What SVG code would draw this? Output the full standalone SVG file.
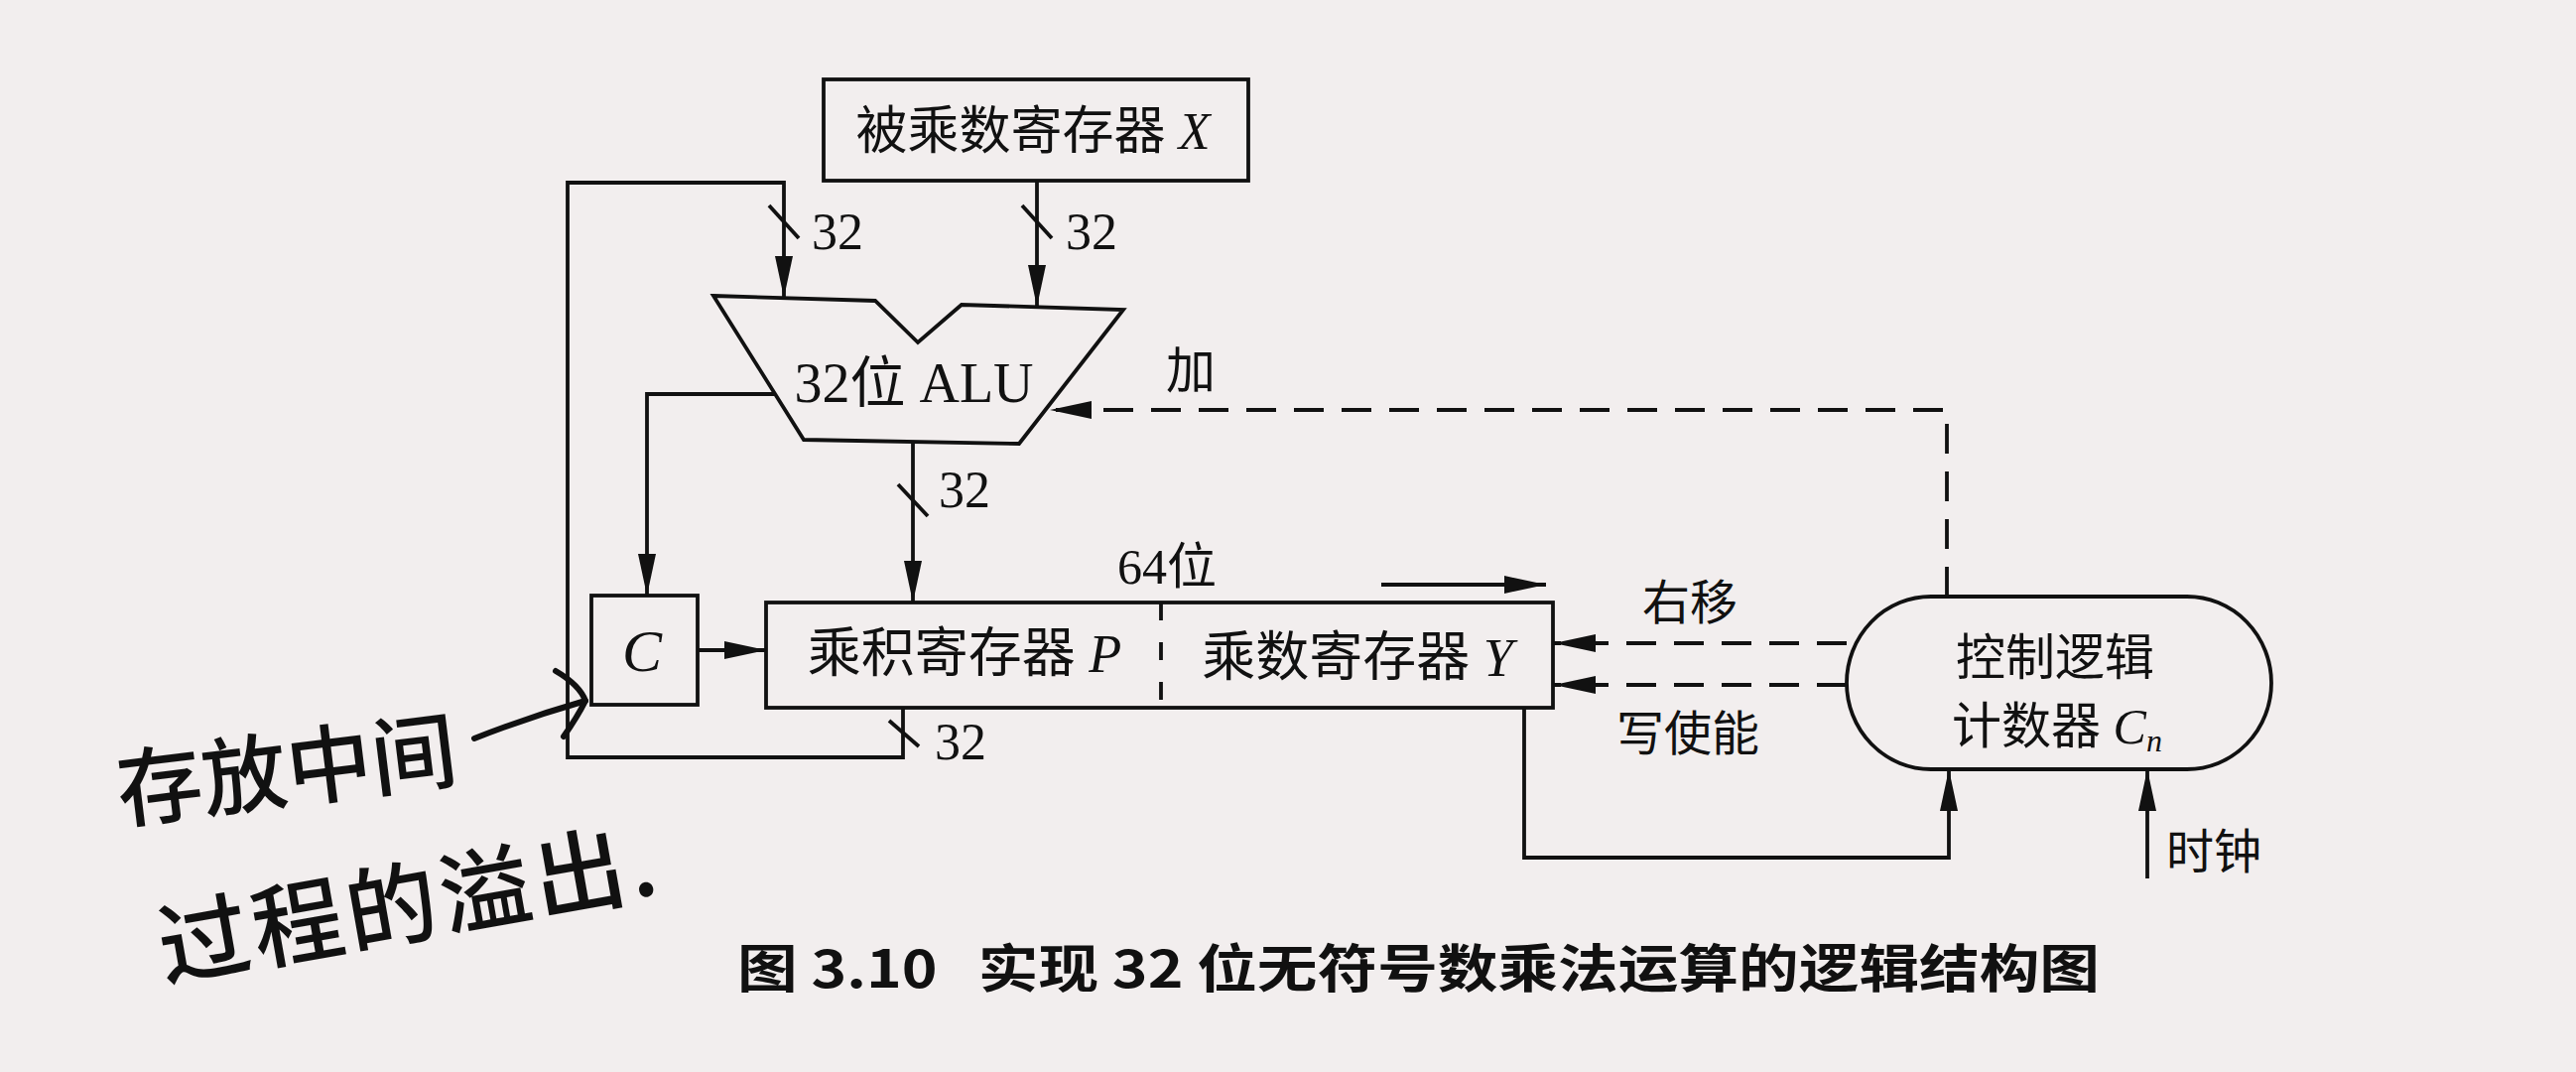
<svg xmlns="http://www.w3.org/2000/svg" width="2596" height="1080" viewBox="0 0 2596 1080">
  <defs>
    <marker id="ah" markerUnits="userSpaceOnUse" markerWidth="44" markerHeight="20" refX="42" refY="9" orient="auto">
      <path d="M0,0 L42,9 L0,18 z" fill="#111"/>
    </marker>
    <style>
      .ln { fill: none; stroke: #111; stroke-width: 3.8; }
      .dash { fill: none; stroke: #111; stroke-width: 3.8; stroke-dasharray: 30 18; }
      .box { fill: none; stroke: #111; stroke-width: 3.8; }
      .t { font-family: "Liberation Serif", "Noto Sans CJK SC", serif; fill: #111; text-anchor: middle; }
      .lab { font-size: 50px; }
      .num { font-size: 52px; }
      .it { font-style: italic; }
      .cap { font-family: "Noto Sans CJK SC", sans-serif; font-weight: bold; font-size: 52px; fill: #111; white-space: pre; }
      .hand { font-family: "Noto Sans CJK SC", sans-serif; font-weight: 500; fill: #111; }
    </style>
  </defs>
  <rect x="0" y="0" width="2596" height="1080" fill="#f2eeee"/>

  <g id="node-X">
    <rect class="box" x="830" y="80" width="428" height="102"/>
    <text class="t" x="1041" y="150" font-size="52">被乘数寄存器 <tspan class="it">X</tspan></text>
  </g>

  <g id="node-ALU">
    <polygon class="box" points="719,298 882,303 925,345 969,307 1132,312 1027,447 810,443"/>
    <text class="t" x="921" y="405" font-size="56">32位 ALU</text>
  </g>

  <g id="node-C">
    <rect class="box" x="596" y="600" width="107" height="110"/>
    <text class="t it" x="647" y="676" font-size="60">C</text>
  </g>

  <g id="node-PY">
    <rect class="box" x="772" y="607" width="793" height="106"/>
    <line x1="1170" y1="607" x2="1170" y2="713" stroke="#111" stroke-width="3.8" stroke-dasharray="18 22"/>
    <text class="t" x="972" y="677" font-size="54">乘积寄存器 <tspan class="it">P</tspan></text>
    <text class="t" x="1368" y="681" font-size="54">乘数寄存器 <tspan class="it">Y</tspan></text>
  </g>

  <g id="node-ctrl">
    <rect class="box" x="1861" y="601" width="428" height="174" rx="85" ry="87"/>
    <text class="t" x="2071" y="680" font-size="50">控制逻辑</text>
    <text class="t" x="2073" y="749" font-size="50">计数器 <tspan class="it">C</tspan><tspan class="it" font-size="32" dy="8">n</tspan></text>
  </g>

  <g id="connectors">
    <polyline class="ln" points="910,713 910,763 572,763 572,184 790,184 790,300" marker-end="url(#ah)"/>
    <line class="ln" x1="775" y1="207" x2="805" y2="240"/>
    <line class="ln" x1="896" y1="726" x2="926" y2="752"/>
    <line class="ln" x1="1045" y1="182" x2="1045" y2="309" marker-end="url(#ah)"/>
    <line class="ln" x1="1030" y1="207" x2="1060" y2="240"/>
    <polyline class="ln" points="781,397 652,397 652,600" marker-end="url(#ah)"/>
    <line class="ln" x1="920" y1="445" x2="920" y2="607" marker-end="url(#ah)"/>
    <line class="ln" x1="905" y1="488" x2="935" y2="520"/>
    <line class="ln" x1="703" y1="655" x2="772" y2="655" marker-end="url(#ah)"/>
    <line class="ln" x1="1392" y1="589" x2="1558" y2="589" marker-end="url(#ah)"/>
    <polyline class="dash" points="1962,601 1962,413 1058,413" marker-end="url(#ah)"/>
    <line class="dash" x1="1861" y1="648" x2="1566" y2="648" marker-end="url(#ah)"/>
    <line class="dash" x1="1861" y1="690" x2="1566" y2="690" marker-end="url(#ah)"/>
    <polyline class="ln" points="1536,713 1536,864 1964,864 1964,775" marker-end="url(#ah)"/>
    <line class="ln" x1="2164" y1="885" x2="2164" y2="775" marker-end="url(#ah)"/>
  </g>

  <g id="labels">
    <text class="t num" x="844" y="251">32</text>
    <text class="t num" x="1100" y="251">32</text>
    <text class="t num" x="972" y="511">32</text>
    <text class="t num" x="968" y="765">32</text>
    <text class="t lab" x="1200" y="391">加</text>
    <text class="t" x="1176" y="588" font-size="50">64位</text>
    <text class="t" x="1703" y="624" font-size="48">右移</text>
    <text class="t" x="1701" y="756" font-size="48">写使能</text>
    <text class="t" x="2231" y="875" font-size="48">时钟</text>
  </g>

  <g id="handwriting">
    <text class="hand" x="122" y="828" font-size="86" transform="rotate(-7 122 828)">存放中间</text>
    <text class="hand" x="166" y="988" font-size="92" letter-spacing="4" transform="rotate(-10 166 988)">过程的溢出.</text>
    <path d="M478,744 Q534,722 590,706" fill="none" stroke="#111" stroke-width="6" stroke-linecap="round"/>
    <path d="M560,676 Q584,690 590,706 Q582,722 568,742" fill="none" stroke="#111" stroke-width="6" stroke-linecap="round" stroke-linejoin="round"/>
  </g>

  <g id="caption">
    <text class="cap" x="743" y="995" textLength="1373" lengthAdjust="spacingAndGlyphs">图 3.10   实现 32 位无符号数乘法运算的逻辑结构图</text>
  </g>
</svg>
